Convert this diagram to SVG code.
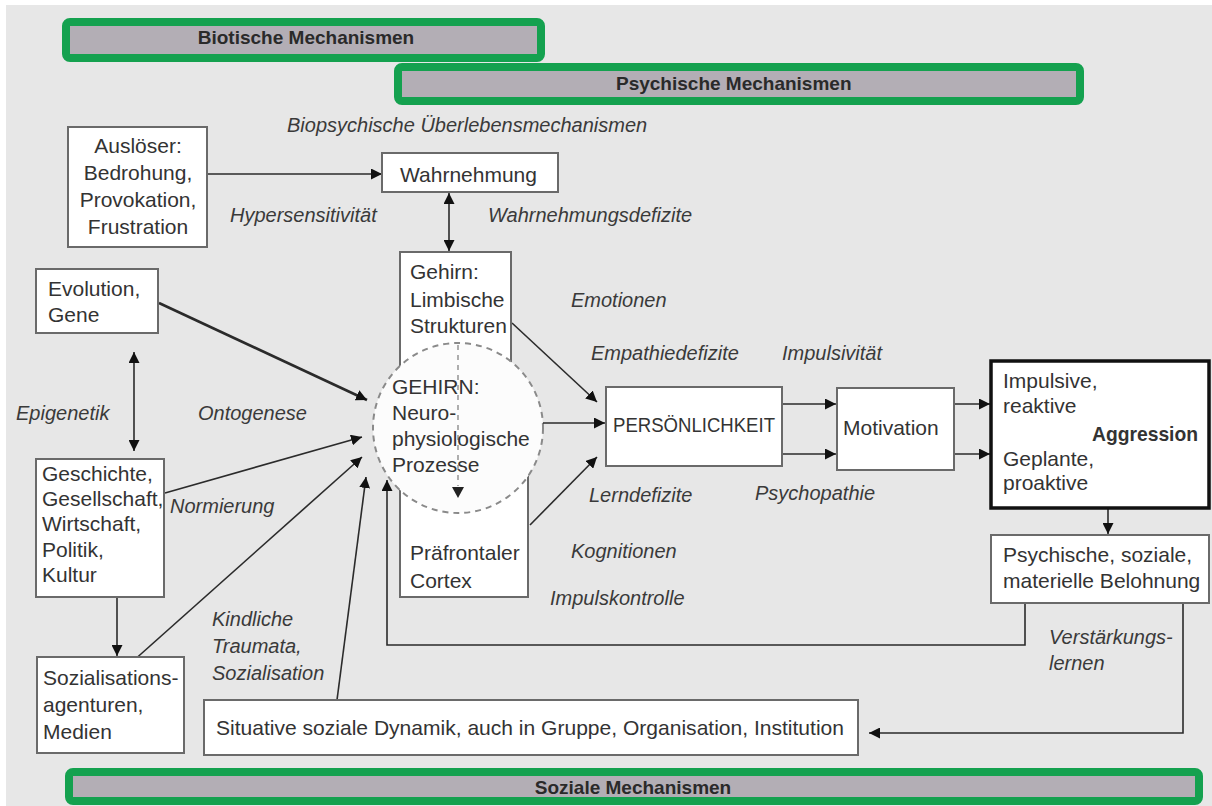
<svg xmlns="http://www.w3.org/2000/svg" width="1212" height="806" viewBox="0 0 1212 806">
<defs>
<marker id="ah" viewBox="0 0 10 10" refX="10" refY="5" markerWidth="11" markerHeight="11" markerUnits="userSpaceOnUse" orient="auto-start-reverse">
<path d="M0,0 L10,5 L0,10 z" fill="#111"/>
</marker>
<style>
.bg{fill:#e7e7e7}
.banner{fill:#b3aeb5;stroke:#14a14f;stroke-width:8}
.bt{font-family:"Liberation Sans",Arial,sans-serif;font-weight:bold;font-size:19px;fill:#2a2a2a}
.box{fill:#fff;stroke:#6a6a6a;stroke-width:2}
.t{font-family:"Liberation Sans",Arial,sans-serif;font-size:21px;fill:#333}
.i{font-family:"Liberation Sans",Arial,sans-serif;font-size:20px;font-style:italic;fill:#3a3a3a}
.c{fill:none;stroke:#2b2b2b;stroke-width:1.6}
.thick{stroke-width:2.6}
</style>
</defs>
<rect class="bg" x="6" y="5" width="1206" height="801"/>

<g id="banner-biotisch">
<rect class="banner" x="66" y="22" width="475" height="36" rx="4"/>
<text class="bt" x="306" y="44" text-anchor="middle">Biotische Mechanismen</text>
</g>
<g id="banner-psychisch">
<rect class="banner" x="398" y="67" width="682" height="34" rx="4"/>
<text class="bt" x="616" y="90">Psychische Mechanismen</text>
</g>
<g id="banner-sozial">
<rect class="banner" x="69" y="772" width="1130" height="29" rx="4"/>
<text class="bt" x="633" y="794" text-anchor="middle">Soziale Mechanismen</text>
</g>

<g id="labels">
<text class="i" x="287" y="132">Biopsychische  Überlebensmechanismen</text>
<text class="i" x="230" y="222">Hypersensitivität</text>
<text class="i" x="488" y="222">Wahrnehmungsdefizite</text>
<text class="i" x="571" y="307">Emotionen</text>
<text class="i" x="591" y="360">Empathiedefizite</text>
<text class="i" x="782" y="360">Impulsivität</text>
<text class="i" x="16" y="420">Epigenetik</text>
<text class="i" x="198" y="420">Ontogenese</text>
<text class="i" x="170" y="513">Normierung</text>
<text class="i" x="589" y="502">Lerndefizite</text>
<text class="i" x="755" y="500">Psychopathie</text>
<text class="i" x="571" y="558">Kognitionen</text>
<text class="i" x="550" y="605">Impulskontrolle</text>
<text class="i" x="212" y="626">Kindliche</text>
<text class="i" x="212" y="653">Traumata,</text>
<text class="i" x="212" y="680">Sozialisation</text>
<text class="i" x="1049" y="644">Verstärkungs-</text>
<text class="i" x="1049" y="670">lernen</text>
</g>

<g id="connectors">
<line class="c" x1="208" y1="174" x2="382" y2="174" marker-end="url(#ah)"/>
<line class="c" x1="449" y1="193" x2="449" y2="251" marker-start="url(#ah)" marker-end="url(#ah)"/>
<line class="c thick" x1="159" y1="303" x2="367" y2="400" marker-end="url(#ah)"/>
<line class="c" x1="134" y1="352" x2="134" y2="451" marker-start="url(#ah)" marker-end="url(#ah)"/>
<line class="c" x1="165" y1="493" x2="362" y2="437" marker-end="url(#ah)"/>
<line class="c" x1="117" y1="597" x2="117" y2="656" marker-end="url(#ah)"/>
<line class="c" x1="132" y1="662" x2="362" y2="457" marker-end="url(#ah)"/>
<line class="c" x1="337" y1="700" x2="366" y2="477" marker-end="url(#ah)"/>
<polyline class="c" points="1025,603 1025,645 387,645 387,480" marker-end="url(#ah)"/>
<line class="c" x1="512" y1="323" x2="597" y2="402" marker-end="url(#ah)"/>
<line class="c" x1="530" y1="525" x2="597" y2="457" marker-end="url(#ah)"/>
<line class="c" x1="782" y1="404" x2="836" y2="404" marker-end="url(#ah)"/>
<line class="c" x1="782" y1="454" x2="836" y2="454" marker-end="url(#ah)"/>
<line class="c" x1="954" y1="404" x2="990" y2="404" marker-end="url(#ah)"/>
<line class="c" x1="954" y1="454" x2="990" y2="454" marker-end="url(#ah)"/>
<line class="c" x1="1108" y1="509" x2="1108" y2="534" marker-end="url(#ah)"/>
<polyline class="c" points="1183,603 1183,733 869,733" marker-end="url(#ah)"/>
</g>

<g id="ausloeser">
<rect class="box" x="68" y="127" width="139" height="120"/>
<text class="t" x="138" y="153" text-anchor="middle">Auslöser:</text>
<text class="t" x="138" y="180" text-anchor="middle">Bedrohung,</text>
<text class="t" x="138" y="207" text-anchor="middle">Provokation,</text>
<text class="t" x="138" y="234" text-anchor="middle">Frustration</text>
</g>
<g id="wahrnehmung">
<rect class="box" x="382" y="153" width="176" height="39"/>
<text class="t" x="400" y="182">Wahrnehmung</text>
</g>
<g id="evolution">
<rect class="box" x="36" y="269" width="122" height="64"/>
<text class="t" x="48" y="296">Evolution,</text>
<text class="t" x="48" y="322">Gene</text>
</g>
<g id="geschichte">
<rect class="box" x="36" y="459" width="128" height="138"/>
<text class="t" x="42" y="481">Geschichte,</text>
<text class="t" x="42" y="506">Gesellschaft,</text>
<text class="t" x="42" y="531">Wirtschaft,</text>
<text class="t" x="42" y="557">Politik,</text>
<text class="t" x="42" y="582">Kultur</text>
</g>
<g id="sozialisation">
<rect class="box" x="37" y="657" width="147" height="96"/>
<text class="t" x="43" y="685">Sozialisations-</text>
<text class="t" x="43" y="712">agenturen,</text>
<text class="t" x="43" y="739">Medien</text>
</g>
<g id="situativ">
<rect class="box" x="204" y="700" width="654" height="55"/>
<text class="t" x="216" y="735" textLength="628" lengthAdjust="spacingAndGlyphs">Situative soziale Dynamik, auch in Gruppe, Organisation, Institution</text>
</g>
<g id="limbisch">
<rect class="box" x="400" y="252" width="111" height="150"/>
<text class="t" x="410" y="279">Gehirn:</text>
<text class="t" x="410" y="307">Limbische</text>
<text class="t" x="410" y="333">Strukturen</text>
</g>
<g id="praefrontal">
<rect class="box" x="400" y="460" width="128" height="137"/>
<text class="t" x="410" y="560">Präfrontaler</text>
<text class="t" x="410" y="588">Cortex</text>
</g>
<g id="gehirn">
<circle cx="458" cy="428" r="85" fill="#fcfcfc" stroke="#8a8a8a" stroke-width="2" stroke-dasharray="6 5"/>
<line x1="458" y1="345" x2="458" y2="486" stroke="#9a9a9a" stroke-width="1.6" stroke-dasharray="5 5"/>
<path d="M452,487 L464,487 L458,498 z" fill="#222"/>
<text class="t" x="392" y="394">GEHIRN:</text>
<text class="t" x="392" y="420">Neuro-</text>
<text class="t" x="392" y="446">physiologische</text>
<text class="t" x="392" y="472">Prozesse</text>
<line class="c" x1="543" y1="423" x2="605" y2="423" marker-end="url(#ah)"/>
</g>
<g id="persoenlichkeit">
<rect class="box" x="606" y="387" width="176" height="79"/>
<text class="t" x="613" y="432" font-size="18" textLength="162" lengthAdjust="spacingAndGlyphs">PERSÖNLICHKEIT</text>
</g>
<g id="motivation">
<rect class="box" x="837" y="388" width="117" height="82"/>
<text class="t" x="843" y="435">Motivation</text>
</g>
<g id="aggression">
<rect x="991" y="361" width="218" height="147" fill="#fff" stroke="#111" stroke-width="3.5"/>
<text class="t" x="1003" y="388">Impulsive,</text>
<text class="t" x="1003" y="413">reaktive</text>
<text class="t" x="1092" y="441" font-weight="bold" fill="#222" textLength="106" lengthAdjust="spacingAndGlyphs">Aggression</text>
<text class="t" x="1003" y="466">Geplante,</text>
<text class="t" x="1003" y="490">proaktive</text>
</g>
<g id="belohnung">
<rect class="box" x="991" y="535" width="218" height="68"/>
<text class="t" x="1003" y="562">Psychische, soziale,</text>
<text class="t" x="1003" y="588">materielle Belohnung</text>
</g>
</svg>
